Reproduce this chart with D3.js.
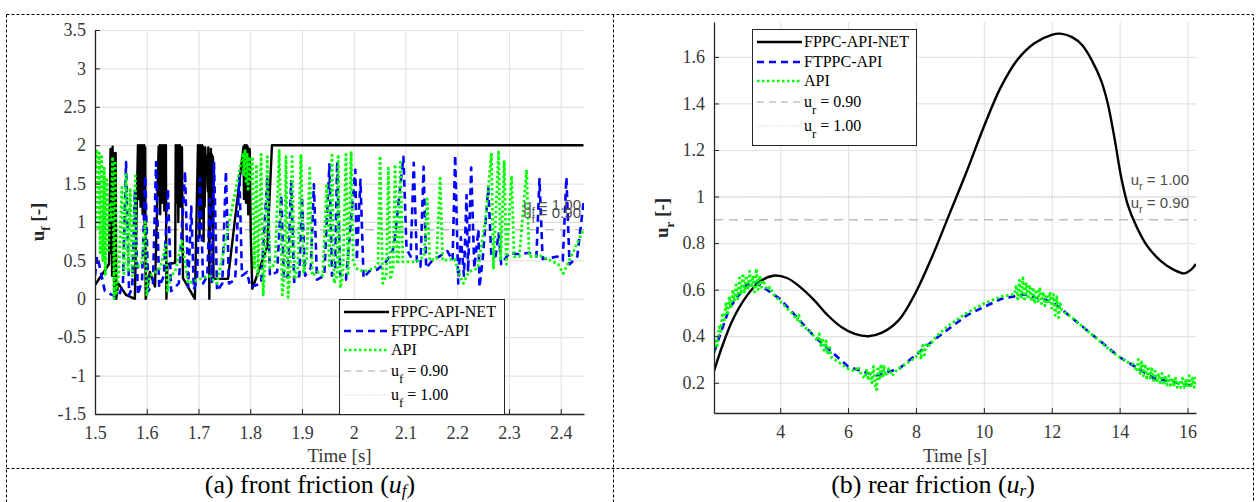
<!DOCTYPE html>
<html>
<head>
<meta charset="utf-8">
<script src="https://cdn.jsdelivr.net/npm/d3@7"></script>
<style>
  body { margin: 0; background: #fff; }
  svg { display: block; }
</style>
</head>
<body>
<svg id="fig" width="1258" height="502"></svg>
<script>
"use strict";

// ---- panel (a): front friction, [time, value] pairs
var frontNet = [[1.500,0.18],[1.527,0.45],[1.530,1.95],[1.531,0.60],[1.532,1.90],[1.533,0.30],[1.534,1.98],[1.535,0.80],[1.536,1.90],
  [1.537,0.10],[1.538,1.85],[1.539,0.40],[1.540,1.90],[1.541,0.00],[1.545,0.20],[1.560,0.05],[1.577,0.00],
  [1.583,2.00],[1.584,1.30],[1.585,1.98],[1.586,1.55],[1.587,2.00],[1.588,1.20],[1.589,1.97],[1.590,1.40],[1.591,2.00],[1.592,1.10],
  [1.593,1.98],[1.594,1.60],[1.595,2.00],[1.596,0.90],[1.597,1.97],[1.598,0.00],[1.606,0.35],[1.616,0.16],
  [1.623,1.98],[1.624,1.35],[1.625,2.00],[1.626,1.10],[1.627,1.97],[1.628,1.60],[1.629,2.00],[1.630,1.25],[1.631,1.98],[1.632,1.45],
  [1.633,2.00],[1.634,1.15],[1.635,1.97],[1.636,1.50],[1.637,2.00],[1.638,0.00],[1.640,0.45],[1.655,0.47],
  [1.656,2.00],[1.657,1.25],[1.658,1.98],[1.659,1.50],[1.660,2.00],[1.661,1.00],[1.662,1.97],[1.663,1.40],[1.664,2.00],[1.665,1.20],
  [1.666,1.98],[1.667,1.55],[1.668,1.97],[1.670,0.27],[1.693,0.00],
  [1.699,2.00],[1.700,1.30],[1.701,1.97],[1.702,0.80],[1.703,2.00],[1.704,1.60],[1.705,1.95],[1.706,1.05],[1.707,2.00],[1.708,1.40],
  [1.709,1.98],[1.710,0.75],[1.711,1.95],[1.712,1.20],[1.713,1.97],[1.715,1.60],[1.716,1.85],[1.718,1.40],[1.719,1.97],
  [1.721,0.00],[1.722,1.90],[1.723,0.90],[1.724,1.95],[1.725,1.20],[1.726,1.88],[1.727,0.95],[1.728,1.85],[1.729,0.26],[1.757,0.26],
  [1.787,1.98],[1.788,1.30],[1.789,2.00],[1.790,1.50],[1.791,1.98],[1.792,1.25],[1.793,2.00],[1.794,1.55],[1.795,1.98],[1.796,1.10],
  [1.797,1.95],[1.798,1.40],[1.799,1.95],[1.801,0.83],[1.804,0.13],[1.833,0.68],[1.842,2.00],[2.444,2.00]];

var frontFtppc = [[1.500,0.30],[1.504,0.55],[1.508,0.45],[1.519,0.10],[1.533,0.05],[1.546,0.03],[1.554,0.20],[1.560,1.78],[1.566,0.05],[1.572,0.15],
  [1.577,1.42],[1.583,0.05],[1.591,0.25],[1.597,1.60],[1.603,0.10],[1.612,0.20],[1.618,1.78],[1.624,0.15],[1.633,0.30],[1.641,1.43],
  [1.647,0.10],[1.662,0.20],[1.674,1.66],[1.680,0.15],[1.686,1.20],[1.691,0.12],[1.697,0.25],[1.703,1.57],[1.709,0.20],[1.717,0.30],
  [1.722,1.30],[1.726,0.22],[1.730,1.77],[1.736,0.10],[1.746,0.20],[1.753,1.66],[1.759,0.20],[1.771,0.25],[1.779,1.62],[1.784,0.30],
  [1.794,0.35],[1.800,0.15],[1.821,0.20],[1.833,1.56],[1.838,0.30],[1.852,0.35],[1.860,1.35],[1.865,0.25],[1.873,0.30],[1.879,1.53],
  [1.885,0.22],[1.895,0.30],[1.900,1.33],[1.906,0.30],[1.917,0.40],[1.923,1.49],[1.929,0.25],[1.943,0.30],[1.953,1.75],[1.958,0.30],
  [1.964,0.40],[1.968,1.79],[1.974,0.30],[1.985,0.25],[2.003,1.68],[2.006,0.50],[2.013,1.55],[2.019,0.27],[2.030,0.36],[2.045,0.38],
  [2.059,0.45],[2.074,0.60],[2.078,0.70],[2.096,1.85],[2.102,0.65],[2.110,0.55],[2.116,1.77],[2.122,0.50],[2.129,0.42],[2.135,1.72],
  [2.140,0.40],[2.152,0.50],[2.165,0.55],[2.181,0.62],[2.191,0.50],[2.196,1.87],[2.202,0.20],[2.207,0.80],[2.213,0.30],[2.218,1.35],
  [2.221,0.35],[2.227,1.71],[2.233,0.40],[2.241,0.90],[2.243,0.15],[2.249,0.50],[2.260,1.44],[2.266,0.55],[2.274,0.55],[2.280,0.85],
  [2.285,0.45],[2.301,0.60],[2.320,0.58],[2.339,0.60],[2.353,0.55],[2.359,1.56],[2.365,0.52],[2.378,0.53],[2.394,0.55],[2.404,0.50],
  [2.411,1.58],[2.417,0.45],[2.425,0.50],[2.432,0.55],[2.444,1.25]];

var frontApi = [[1.500,1.65],[1.503,1.95],[1.505,0.90],[1.508,1.90],[1.510,0.60],[1.513,1.85],[1.515,0.50],[1.518,1.70],[1.520,0.30],[1.523,1.55],
  [1.526,0.60],[1.529,1.25],[1.531,1.00],[1.534,1.85],[1.537,0.00],[1.539,1.80],[1.541,0.05],[1.546,0.35],[1.552,1.45],[1.556,0.30],
  [1.560,1.62],[1.564,0.35],[1.568,1.42],[1.572,0.30],[1.578,1.60],[1.580,0.40],[1.590,0.45],[1.597,1.00],[1.600,0.05],[1.606,0.30],
  [1.626,0.40],[1.637,0.70],[1.640,0.10],[1.646,0.30],[1.655,0.35],[1.668,0.75],[1.680,0.20],[1.700,0.25],[1.720,0.30],[1.736,0.20],
  [1.786,1.90],[1.788,1.60],[1.790,1.95],[1.792,1.50],[1.794,1.90],[1.796,1.40],[1.798,1.85],[1.800,1.55],[1.804,1.85],[1.808,0.40],
  [1.812,1.75],[1.815,0.30],[1.821,1.88],[1.825,0.05],[1.829,0.50],[1.833,1.85],[1.838,0.40],[1.848,0.45],[1.856,1.93],[1.862,0.05],
  [1.866,0.30],[1.869,1.85],[1.873,0.02],[1.877,0.35],[1.881,1.85],[1.886,0.25],[1.892,0.40],[1.898,1.88],[1.903,0.35],[1.909,0.50],
  [1.915,1.70],[1.920,0.30],[1.930,0.35],[1.940,0.30],[1.948,1.50],[1.953,0.40],[1.958,1.90],[1.962,0.20],[1.968,0.30],[1.970,1.88],
  [1.974,0.14],[1.979,0.30],[1.985,1.88],[1.989,0.30],[1.995,1.92],[1.999,0.50],[2.004,0.40],[2.020,0.35],[2.040,0.40],[2.047,0.45],
  [2.051,1.86],[2.056,0.20],[2.063,0.30],[2.067,1.70],[2.071,0.25],[2.076,0.40],[2.080,1.75],[2.084,0.45],[2.087,0.50],[2.090,1.78],
  [2.095,0.48],[2.120,0.48],[2.136,0.55],[2.142,1.30],[2.147,0.50],[2.160,0.52],[2.167,1.57],[2.172,0.50],[2.195,0.52],[2.205,0.30],
  [2.212,0.20],[2.222,0.35],[2.240,0.40],[2.255,1.05],[2.266,1.90],[2.270,0.40],[2.280,1.93],[2.284,0.50],[2.291,1.80],[2.295,0.45],
  [2.305,1.60],[2.310,0.55],[2.320,0.55],[2.334,1.68],[2.339,0.55],[2.360,0.56],[2.380,0.50],[2.395,0.45],[2.405,0.33],[2.420,0.55],
  [2.444,0.90]];

var frontXTicks = [1.5, 1.6, 1.7, 1.8, 1.9, 2, 2.1, 2.2, 2.3, 2.4];
var frontYTicks = [-1.5, -1, -0.5, 0, 0.5, 1, 1.5, 2, 2.5, 3, 3.5];

// ---- panel (b): rear friction
var rearNet = [[2.05,0.25],[2.3,0.36],[2.6,0.47],[3.0,0.57],[3.4,0.635],[3.8,0.66],[4.2,0.65],[4.6,0.61],[5.0,0.555],[5.4,0.49],[5.8,0.44],
  [6.2,0.41],[6.6,0.40],[7.0,0.415],[7.5,0.47],[8.0,0.59],[8.5,0.75],[9.0,0.93],[9.5,1.11],[10.0,1.30],[10.5,1.47],[11.0,1.59],[11.5,1.66],
  [12.0,1.695],[12.25,1.70],[12.6,1.685],[12.9,1.65],[13.2,1.58],[13.45,1.50],[13.65,1.40],[13.85,1.25],[14.05,1.08],[14.25,0.96],
  [14.5,0.87],[14.8,0.79],[15.2,0.725],[15.6,0.685],[15.9,0.67],[16.1,0.685],[16.25,0.71]];

var rearFtppc = [[2.05,0.33],[2.5,0.52],[3.0,0.62],[3.3,0.63],[4.0,0.56],[5.0,0.40],[6.0,0.27],[6.8,0.23],[7.5,0.26],[8.5,0.38],[9.5,0.49],
  [10.5,0.56],[11.2,0.58],[12.0,0.55],[13.0,0.43],[14.0,0.31],[15.0,0.22],[16.0,0.19],[16.25,0.19]];

var rearApi = [[2.05,0.33],[2.1,0.38],[2.15,0.36],[2.2,0.44],[2.25,0.42],[2.3,0.50],[2.35,0.46],[2.4,0.54],[2.45,0.49],[2.5,0.57],[2.55,0.52],
  [2.6,0.60],[2.65,0.55],[2.7,0.62],[2.75,0.56],[2.8,0.65],[2.85,0.58],[2.9,0.67],[2.95,0.59],[3.0,0.66],[3.05,0.60],[3.1,0.68],[3.15,0.61],
  [3.2,0.66],[3.25,0.59],[3.3,0.69],[3.35,0.60],[3.4,0.66],[3.45,0.61],[3.5,0.64],[3.6,0.60],[3.7,0.61],[3.8,0.58],[4.0,0.55],[4.2,0.52],
  [4.4,0.49],[4.5,0.47],[4.55,0.49],[4.6,0.45],[4.8,0.43],[5.0,0.40],[5.1,0.38],[5.15,0.41],[5.2,0.36],[5.25,0.39],[5.3,0.33],[5.35,0.38],
  [5.4,0.32],[5.45,0.36],[5.5,0.31],[5.6,0.30],[5.8,0.28],[6.0,0.26],[6.2,0.25],[6.3,0.27],[6.4,0.23],[6.5,0.22],[6.55,0.26],[6.6,0.21],
  [6.65,0.25],[6.7,0.20],[6.75,0.27],[6.8,0.19],[6.84,0.17],[6.88,0.27],[6.92,0.21],[6.97,0.28],[7.02,0.22],[7.06,0.27],[7.1,0.23],
  [7.2,0.26],[7.3,0.23],[7.4,0.25],[7.6,0.27],[7.8,0.29],[8.0,0.31],[8.1,0.34],[8.15,0.30],[8.2,0.36],[8.25,0.32],[8.3,0.37],[8.4,0.36],
  [8.6,0.40],[9.0,0.45],[9.5,0.50],[10.0,0.54],[10.5,0.57],[10.9,0.58],[10.95,0.62],[11.0,0.56],[11.05,0.64],[11.1,0.56],[11.15,0.65],
  [11.2,0.55],[11.25,0.63],[11.3,0.56],[11.35,0.62],[11.4,0.55],[11.45,0.61],[11.5,0.54],[11.55,0.60],[11.6,0.55],[11.65,0.61],
  [11.7,0.54],[11.75,0.59],[11.8,0.53],[11.85,0.58],[11.9,0.54],[11.95,0.59],[12.0,0.52],[12.05,0.58],[12.1,0.49],[12.15,0.57],
  [12.2,0.48],[12.25,0.54],[12.3,0.51],[12.6,0.48],[13.0,0.43],[13.4,0.38],[13.8,0.33],[14.2,0.29],[14.4,0.28],[14.5,0.25],[14.55,0.30],
  [14.6,0.24],[14.65,0.29],[14.7,0.23],[14.75,0.28],[14.8,0.22],[14.85,0.27],[14.9,0.22],[14.95,0.26],[15.0,0.21],[15.05,0.25],
  [15.1,0.20],[15.15,0.24],[15.2,0.20],[15.25,0.24],[15.3,0.19],[15.35,0.23],[15.4,0.19],[15.45,0.23],[15.5,0.18],[15.55,0.22],
  [15.6,0.19],[15.65,0.22],[15.7,0.18],[15.75,0.21],[15.8,0.18],[15.85,0.22],[15.9,0.18],[15.95,0.21],[16.0,0.18],[16.05,0.23],
  [16.1,0.18],[16.15,0.22],[16.2,0.18],[16.25,0.23]];

var rearXTicks = [4, 6, 8, 10, 12, 14, 16];
var rearYTicks = [0.2, 0.4, 0.6, 0.8, 1, 1.2, 1.4, 1.6];

var seriesNames = ["FPPC-API-NET", "FTPPC-API", "API"];
var refValues = [0.90, 1.00];
var refLabels = ["0.90", "1.00"];

var serif = "'Liberation Serif', 'Times New Roman', serif";
var sans = "'Liberation Sans', Arial, sans-serif";

var svg = d3.select("#fig");

// cell borders of the surrounding table
svg.append("path")
    .attr("d", "M6.5,14.5H1253.5V502M6.5,14.5V502M613.5,14.5V502M6.5,468.5H1253.5")
    .attr("fill", "none")
    .attr("stroke", "#000")
    .attr("stroke-width", 1)
    .attr("stroke-dasharray", "3,2");

var styles = [
  { color: "#000", width: 2.4, dash: null },
  { color: "#0000ff", width: 2.6, dash: "7,5" },
  { color: "#00ff00", width: 2.8, dash: "2.5,2.5" }
];

function drawPanel(options) {

  var x = d3.scaleLinear().domain(options.xDomain).range([options.left, options.right]);
  var y = d3.scaleLinear().domain(options.yDomain).range([options.bottom, options.top]);
  var h = options.bottom - options.top,
      w = options.right - options.left;

  var g = svg.append("g");

  // grid
  var gx = g.append("g")
      .attr("transform", "translate(0," + options.bottom + ")")
      .call(d3.axisBottom(x).tickValues(options.xTicks).tickSize(-h).tickFormat(""));
  var gy = g.append("g")
      .attr("transform", "translate(" + options.left + ",0)")
      .call(d3.axisLeft(y).tickValues(options.yTicks).tickSize(-w).tickFormat(""));
  [gx, gy].forEach(function(a){
    a.select(".domain").remove();
    a.selectAll("line").attr("stroke", "#e3e3e3").attr("stroke-width", 1.2);
  });

  var clipId = "clip-" + options.name;
  g.append("clipPath").attr("id", clipId)
    .append("rect").attr("x", options.left).attr("y", options.top - 2).attr("width", w).attr("height", h + 2);

  var plot = g.append("g").attr("clip-path", "url(#" + clipId + ")");

  // reference lines
  plot.append("line")
      .attr("x1", options.left).attr("x2", options.right)
      .attr("y1", y(refValues[0])).attr("y2", y(refValues[0]))
      .attr("stroke", "#bdbdbd").attr("stroke-width", 1.5).attr("stroke-dasharray", "9,6");
  plot.append("line")
      .attr("x1", options.left).attr("x2", options.right)
      .attr("y1", y(refValues[1])).attr("y2", y(refValues[1]))
      .attr("stroke", "#c8c8c8").attr("stroke-width", 1).attr("stroke-dasharray", "1,1.5");

  options.series.forEach(function(s, i){
    var line = d3.line()
        .x(function(d){ return x(d[0]); })
        .y(function(d){ return y(d[1]); })
        .curve(i === 0 ? options.curveNet : d3.curveLinear);
    plot.append("path")
        .datum(s)
        .attr("d", line)
        .attr("fill", "none")
        .attr("stroke", styles[i].color)
        .attr("stroke-width", styles[i].width)
        .attr("stroke-dasharray", styles[i].dash)
        .attr("stroke-linejoin", "round");
  });

  // reference labels
  refValues.forEach(function(v, i){
    var t = g.append("text")
        .attr("x", options.right - options.labelInset)
        .attr("y", y(v) - 12)
        .attr("text-anchor", "end")
        .attr("font-family", sans)
        .attr("font-size", 15)
        .attr("fill", "#4d4d4d");
    t.append("tspan").text("u");
    t.append("tspan").attr("dy", 5).attr("font-size", 11).text(options.sub);
    t.append("tspan").attr("dy", -5).text(" = " + refLabels[i]);
  });

  // axes
  var ax = g.append("g")
      .attr("transform", "translate(0," + options.bottom + ")")
      .call(d3.axisBottom(x).tickValues(options.xTicks).tickSizeInner(-5).tickSizeOuter(0)
            .tickFormat(function(d){ return String(d); }));
  var ay = g.append("g")
      .attr("transform", "translate(" + options.left + ",0)")
      .call(d3.axisLeft(y).tickValues(options.yTicks).tickSizeInner(-5).tickSizeOuter(0).tickPadding(9)
            .tickFormat(function(d){ return String(d); }));
  [ax, ay].forEach(function(a){
    a.select(".domain").attr("stroke", "#262626").attr("stroke-width", 1.3);
    a.selectAll(".tick line").attr("stroke", "#262626");
    a.selectAll("text").attr("font-family", serif).attr("font-size", 18).attr("fill", "#383838");
  });
  ax.selectAll("text").attr("dy", "0.71em").attr("y", 12);

  g.append("text")
      .attr("x", (options.left + options.right) / 2)
      .attr("y", 462)
      .attr("text-anchor", "middle")
      .attr("font-family", serif)
      .attr("font-size", 19)
      .attr("fill", "#383838")
      .text("Time [s]");

  var yl = g.append("text")
      .attr("transform", "translate(" + options.yLabelX + "," + options.yLabelY + ") rotate(-90)")
      .attr("text-anchor", "middle")
      .attr("font-family", serif)
      .attr("font-size", 19)
      .attr("font-weight", "bold")
      .attr("fill", "#262626");
  yl.append("tspan").text("u");
  yl.append("tspan").attr("dy", 6).attr("font-size", 13).text(options.sub);
  yl.append("tspan").attr("dy", -6).text(" [-]");

  // legend
  var L = options.legend;
  var lg = g.append("g");
  lg.append("rect")
      .attr("x", L.x + 0.5).attr("y", L.y + 0.5)
      .attr("width", L.w).attr("height", L.h)
      .attr("fill", "#fff").attr("stroke", "#262626").attr("stroke-width", 1);
  var sampleStyles = styles.concat([
    { color: "#c4c4c4", width: 1.5, dash: "7,5" },
    { color: "#cccccc", width: 1, dash: "1,1.5" }
  ]);
  L.rows.forEach(function(by, i){
    lg.append("line")
        .attr("x1", L.x + 5).attr("x2", L.x + 50)
        .attr("y1", by - 5).attr("y2", by - 5)
        .attr("stroke", sampleStyles[i].color)
        .attr("stroke-width", Math.min(sampleStyles[i].width, 2.4))
        .attr("stroke-dasharray", sampleStyles[i].dash);
    var t = lg.append("text")
        .attr("x", L.x + 52).attr("y", by)
        .attr("font-family", serif).attr("font-size", 16).attr("fill", "#000");
    if (i < 3) {
      t.text(seriesNames[i]);
    } else {
      t.append("tspan").text("u");
      t.append("tspan").attr("dy", 7).attr("font-size", 13).text(options.sub);
      t.append("tspan").attr("dy", -7).text(" = " + refLabels[i - 3]);
    }
  });

  // caption
  var cap = svg.append("text")
      .attr("x", options.captionX)
      .attr("y", 493)
      .attr("text-anchor", "middle")
      .attr("font-family", serif)
      .attr("font-size", 26)
      .attr("fill", "#000");
  cap.append("tspan").text(options.caption + " (");
  cap.append("tspan").attr("font-style", "italic").text("u");
  cap.append("tspan").attr("font-style", "italic").attr("font-size", 17).attr("dy", 3).text(options.sub);
  cap.append("tspan").attr("dy", -3).text(")");
}

drawPanel({
  name: "front",
  left: 95, right: 584, top: 30, bottom: 414,
  xDomain: [1.5, 2.445], yDomain: [-1.5, 3.5],
  xTicks: frontXTicks, yTicks: frontYTicks,
  series: [frontNet, frontFtppc, frontApi],
  curveNet: d3.curveLinear,
  sub: "f", labelInset: 3,
  yLabelX: 44, yLabelY: 222,
  legend: { x: 339, y: 299, w: 165, h: 115, rows: [317, 336, 355, 376, 400] },
  caption: "(a) front friction", captionX: 310
});

drawPanel({
  name: "rear",
  left: 714, right: 1196, top: 22, bottom: 413,
  xDomain: [2.05, 16.25], yDomain: [0.07, 1.75],
  xTicks: rearXTicks, yTicks: rearYTicks,
  series: [rearNet, rearFtppc, rearApi],
  curveNet: d3.curveCatmullRom.alpha(0.5),
  sub: "r", labelInset: 7,
  yLabelX: 668, yLabelY: 218,
  legend: { x: 752, y: 29, w: 164, h: 116, rows: [47, 67, 86, 107, 131] },
  caption: "(b) rear friction", captionX: 933
});
</script>
</body>
</html>
